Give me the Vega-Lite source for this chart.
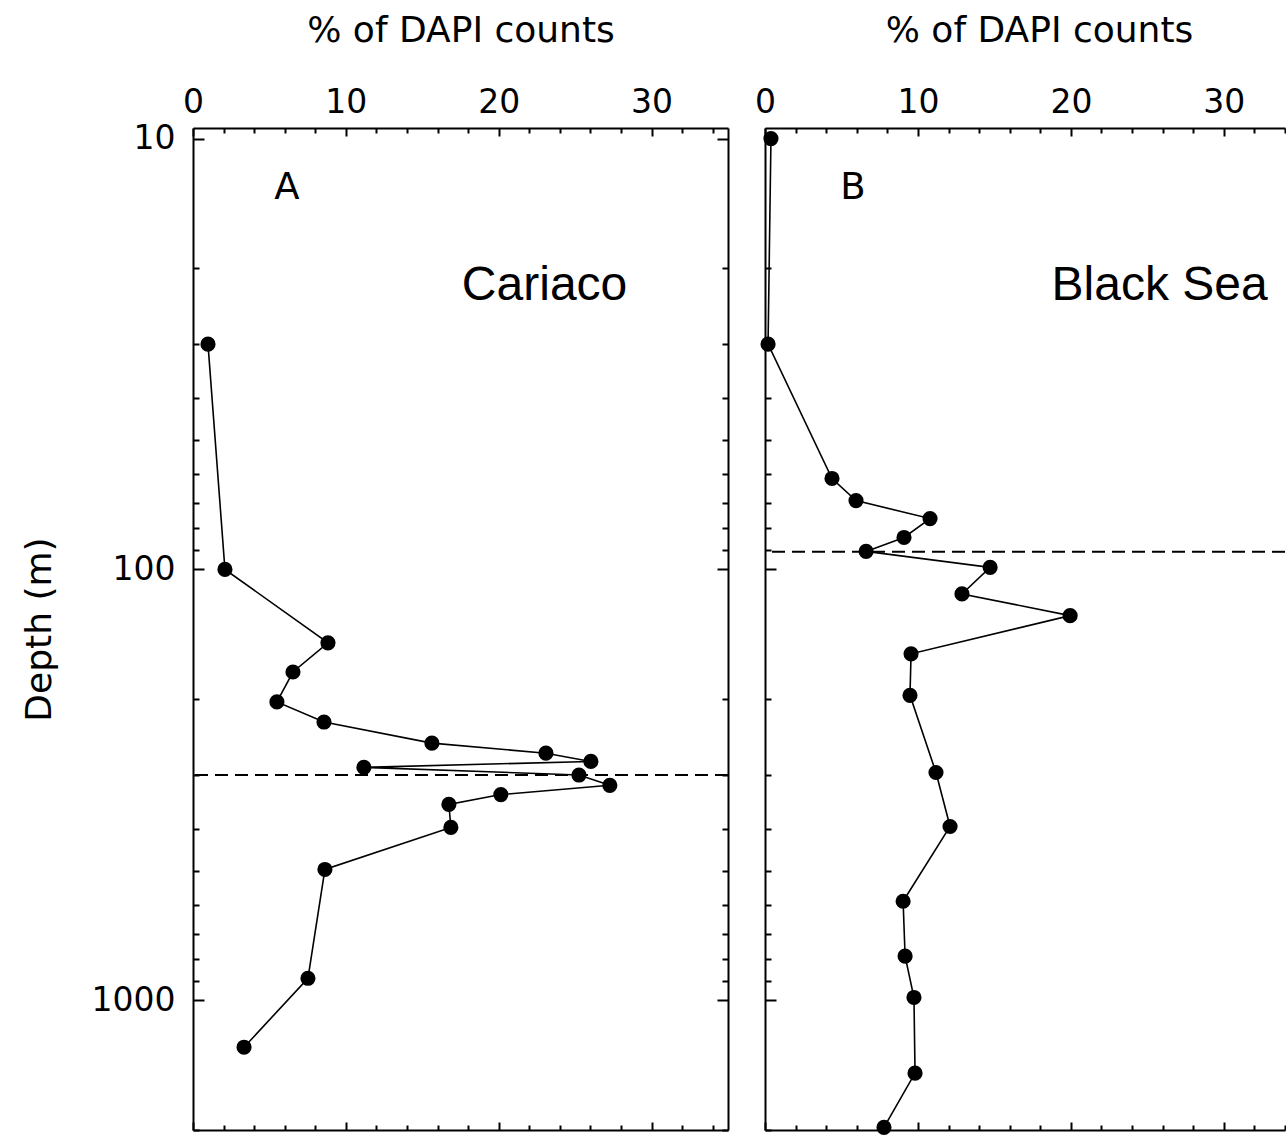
{
  "$schema": "https://vega.github.io/schema/vega-lite/v6.json",
  "background": "white",
  "padding": {"left": 21, "top": 12, "right": 0, "bottom": 0},
  "spacing": 25,
  "config": {
    "view": {"stroke": null},
    "axis": {
      "grid": false,
      "domainColor": "black",
      "domainWidth": 2,
      "tickColor": "black",
      "tickWidth": 2,
      "labelColor": "black",
      "titleColor": "black",
      "labelFont": "DejaVu Sans",
      "titleFont": "DejaVu Sans",
      "titleFontWeight": "normal"
    }
  },
  "datasets": {
    "cariaco": [
      {"pct": 0.98, "depth": 30},
      {"pct": 2.09, "depth": 100},
      {"pct": 8.83, "depth": 148},
      {"pct": 6.54, "depth": 173},
      {"pct": 5.49, "depth": 203},
      {"pct": 8.57, "depth": 226},
      {"pct": 15.63, "depth": 253},
      {"pct": 23.09, "depth": 267},
      {"pct": 26.03, "depth": 279},
      {"pct": 11.18, "depth": 288},
      {"pct": 25.25, "depth": 300},
      {"pct": 27.27, "depth": 317},
      {"pct": 20.14, "depth": 333},
      {"pct": 16.74, "depth": 351},
      {"pct": 16.87, "depth": 397},
      {"pct": 8.63, "depth": 497},
      {"pct": 7.52, "depth": 889},
      {"pct": 3.34, "depth": 1285}
    ],
    "blacksea": [
      {"pct": 0.39, "depth": 10},
      {"pct": 0.2, "depth": 30},
      {"pct": 4.38, "depth": 61.5},
      {"pct": 5.95, "depth": 69.2},
      {"pct": 10.79, "depth": 76.2},
      {"pct": 9.09, "depth": 84.3},
      {"pct": 6.61, "depth": 90.8},
      {"pct": 14.72, "depth": 98.9},
      {"pct": 12.88, "depth": 114},
      {"pct": 19.95, "depth": 128},
      {"pct": 9.55, "depth": 157},
      {"pct": 9.48, "depth": 196},
      {"pct": 11.18, "depth": 296},
      {"pct": 12.1, "depth": 395},
      {"pct": 9.03, "depth": 589},
      {"pct": 9.16, "depth": 790},
      {"pct": 9.74, "depth": 985},
      {"pct": 9.81, "depth": 1476},
      {"pct": 7.78, "depth": 1972}
    ]
  },
  "hconcat": [
    {
      "width": 535,
      "height": 1002,
      "data": {"name": "cariaco"},
      "resolve": {"axis": {"x": "independent", "y": "independent"}},
      "layer": [
        {
          "mark": {"type": "line", "color": "black", "strokeWidth": 1.6},
          "encoding": {
            "x": {"field": "pct", "type": "quantitative",
              "scale": {"domain": [0, 35], "nice": false, "zero": false},
              "axis": {"orient": "top", "values": [0, 10, 20, 30], "format": "d", "ticks": false, "labelFontSize": 33, "labelPadding": 9, "labelFlush": false, "labelOverlap": false, "title": "% of DAPI counts", "titleFontSize": 36, "titlePadding": 37, "domain": true}},
            "y": {"field": "depth", "type": "quantitative",
              "scale": {"type": "log", "domain": [9.45, 2000], "reverse": true, "nice": false},
              "axis": {"orient": "left", "values": [10, 100, 1000], "format": "d", "ticks": false, "labelFontSize": 33, "labelPadding": 18, "labelFlush": false, "labelOverlap": false, "title": "Depth (m)", "titleFontSize": 36, "titlePadding": 33, "domain": true}},
            "order": {"field": "depth", "type": "quantitative"}
          }
        },
        {
          "mark": {"type": "point", "filled": true, "color": "black", "opacity": 1, "size": 230},
          "encoding": {
            "x": {"field": "pct", "type": "quantitative",
              "scale": {"domain": [0, 35], "nice": false, "zero": false},
              "axis": {"orient": "top", "values": [0, 10, 20, 30], "labels": false, "title": null, "domain": false, "tickSize": -8}},
            "y": {"field": "depth", "type": "quantitative",
              "scale": {"type": "log", "domain": [9.45, 2000], "reverse": true, "nice": false},
              "axis": {"orient": "left", "values": [10, 100, 1000], "labels": false, "title": null, "domain": false, "tickSize": -11}}
          }
        },
        {
          "data": {"values": [{"n": 1}]},
          "mark": {"type": "text", "text": "A", "font": "DejaVu Sans", "fontSize": 37, "align": "center", "baseline": "alphabetic", "color": "black"},
          "encoding": {
            "x": {"datum": 6.15, "type": "quantitative",
              "scale": {"domain": [0, 35], "nice": false, "zero": false},
              "axis": {"orient": "bottom", "values": [0, 10, 20, 30], "labels": false, "title": null, "domain": true, "tickSize": -8}},
            "y": {"datum": 13.8, "type": "quantitative",
              "scale": {"type": "log", "domain": [9.45, 2000], "reverse": true, "nice": false},
              "axis": {"orient": "right", "values": [10, 100, 1000], "labels": false, "title": null, "domain": true, "tickSize": -11}}
          }
        },
        {
          "data": {"values": [{"n": 1}]},
          "mark": {"type": "text", "text": "Cariaco", "font": "Liberation Sans", "fontSize": 48, "align": "center", "baseline": "alphabetic", "color": "black"},
          "encoding": {
            "x": {"datum": 23.0, "type": "quantitative",
              "scale": {"domain": [0, 35], "nice": false, "zero": false},
              "axis": {"orient": "top", "values": [2, 4, 6, 8, 12, 14, 16, 18, 22, 24, 26, 28, 32, 34], "labels": false, "title": null, "domain": false, "tickSize": -5}},
            "y": {"datum": 23.7, "type": "quantitative",
              "scale": {"type": "log", "domain": [9.45, 2000], "reverse": true, "nice": false},
              "axis": {"orient": "left", "values": [20, 30, 40, 50, 60, 70, 80, 90, 200, 300, 400, 500, 600, 700, 800, 900, 2000], "labels": false, "title": null, "domain": false, "tickSize": -6}}
          }
        },
        {
          "data": {"values": [{"n": 1}]},
          "mark": {"type": "text", "text": "", "fontSize": 1},
          "encoding": {
            "x": {"datum": 1, "type": "quantitative",
              "scale": {"domain": [0, 35], "nice": false, "zero": false},
              "axis": {"orient": "bottom", "values": [2, 4, 6, 8, 12, 14, 16, 18, 22, 24, 26, 28, 32, 34], "labels": false, "title": null, "domain": false, "tickSize": -5}},
            "y": {"datum": 20, "type": "quantitative",
              "scale": {"type": "log", "domain": [9.45, 2000], "reverse": true, "nice": false},
              "axis": {"orient": "right", "values": [20, 30, 40, 50, 60, 70, 80, 90, 200, 300, 400, 500, 600, 700, 800, 900, 2000], "labels": false, "title": null, "domain": false, "tickSize": -6}}
          }
        },
        {
          "data": {"values": [{"n": 1}]},
          "mark": {"type": "rule", "color": "black", "strokeWidth": 2, "strokeDash": [13, 7]},
          "encoding": {
            "y": {"datum": 300, "type": "quantitative", "axis": null}
          }
        }
      ]
    },
    {
      "width": 520,
      "height": 1002,
      "data": {"name": "blacksea"},
      "resolve": {"axis": {"x": "independent", "y": "independent"}},
      "layer": [
        {
          "mark": {"type": "line", "color": "black", "strokeWidth": 1.6},
          "encoding": {
            "x": {"field": "pct", "type": "quantitative",
              "scale": {"domain": [0, 34], "nice": false, "zero": false},
              "axis": {"orient": "top", "values": [0, 10, 20, 30], "format": "d", "ticks": false, "labelFontSize": 33, "labelPadding": 9, "labelFlush": false, "labelOverlap": false, "title": "% of DAPI counts", "titleFontSize": 36, "titlePadding": 37, "titleX": 274, "domain": true}},
            "y": {"field": "depth", "type": "quantitative",
              "scale": {"type": "log", "domain": [9.45, 2000], "reverse": true, "nice": false},
              "axis": {"orient": "left", "values": [10, 100, 1000], "labels": false, "title": null, "domain": true, "tickSize": -11}},
            "order": {"field": "depth", "type": "quantitative"}
          }
        },
        {
          "mark": {"type": "point", "filled": true, "color": "black", "opacity": 1, "size": 230},
          "encoding": {
            "x": {"field": "pct", "type": "quantitative",
              "scale": {"domain": [0, 34], "nice": false, "zero": false},
              "axis": {"orient": "top", "values": [0, 10, 20, 30], "labels": false, "title": null, "domain": false, "tickSize": -8}},
            "y": {"field": "depth", "type": "quantitative",
              "scale": {"type": "log", "domain": [9.45, 2000], "reverse": true, "nice": false},
              "axis": {"orient": "left", "values": [20, 30, 40, 50, 60, 70, 80, 90, 200, 300, 400, 500, 600, 700, 800, 900, 2000], "labels": false, "title": null, "domain": false, "tickSize": -6}}
          }
        },
        {
          "data": {"values": [{"n": 1}]},
          "mark": {"type": "text", "text": "B", "font": "DejaVu Sans", "fontSize": 37, "align": "center", "baseline": "alphabetic", "color": "black"},
          "encoding": {
            "x": {"datum": 5.75, "type": "quantitative",
              "scale": {"domain": [0, 34], "nice": false, "zero": false},
              "axis": {"orient": "bottom", "values": [0, 10, 20, 30], "labels": false, "title": null, "domain": true, "tickSize": -8}},
            "y": {"datum": 13.8, "type": "quantitative",
              "scale": {"type": "log", "domain": [9.45, 2000], "reverse": true, "nice": false},
              "axis": null}
          }
        },
        {
          "data": {"values": [{"n": 1}]},
          "mark": {"type": "text", "text": "Black Sea", "font": "Liberation Sans", "fontSize": 48, "align": "center", "baseline": "alphabetic", "color": "black"},
          "encoding": {
            "x": {"datum": 25.8, "type": "quantitative",
              "scale": {"domain": [0, 34], "nice": false, "zero": false},
              "axis": {"orient": "top", "values": [2, 4, 6, 8, 12, 14, 16, 18, 22, 24, 26, 28, 32, 34], "labels": false, "title": null, "domain": false, "tickSize": -5}},
            "y": {"datum": 23.7, "type": "quantitative",
              "scale": {"type": "log", "domain": [9.45, 2000], "reverse": true, "nice": false},
              "axis": null}
          }
        },
        {
          "data": {"values": [{"n": 1}]},
          "mark": {"type": "text", "text": "", "fontSize": 1},
          "encoding": {
            "x": {"datum": 1, "type": "quantitative",
              "scale": {"domain": [0, 34], "nice": false, "zero": false},
              "axis": {"orient": "bottom", "values": [2, 4, 6, 8, 12, 14, 16, 18, 22, 24, 26, 28, 32, 34], "labels": false, "title": null, "domain": false, "tickSize": -5}},
            "y": {"datum": 20, "type": "quantitative",
              "scale": {"type": "log", "domain": [9.45, 2000], "reverse": true, "nice": false},
              "axis": null}
          }
        },
        {
          "data": {"values": [{"n": 1}]},
          "mark": {"type": "rule", "color": "black", "strokeWidth": 2, "strokeDash": [13, 7]},
          "encoding": {
            "y": {"datum": 91, "type": "quantitative", "axis": null}
          }
        }
      ]
    }
  ]
}
